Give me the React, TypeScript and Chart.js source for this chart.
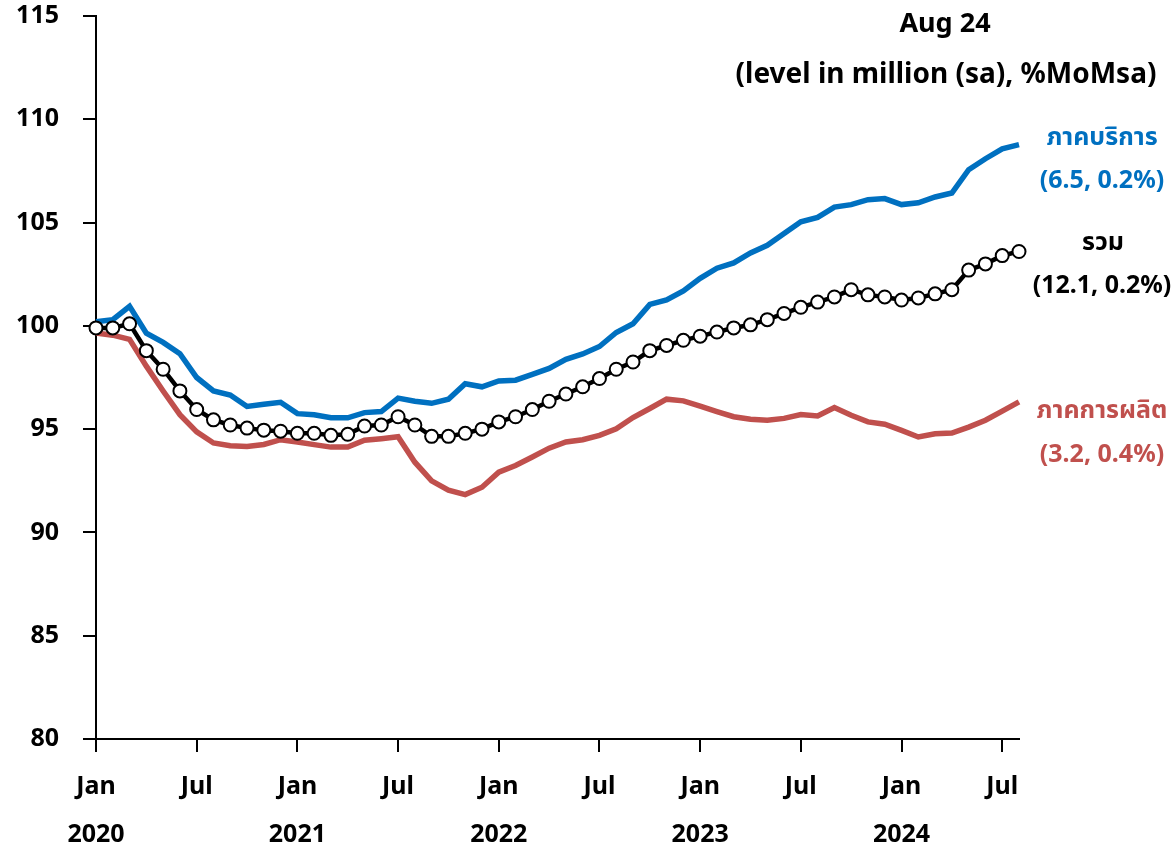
import React, { useEffect, useRef } from 'react';
import { Chart, registerables } from 'chart.js';

Chart.register(...registerables);

// ---------- data ----------
const MONTH_NAMES = ['Jan', 'Feb', 'Mar', 'Apr', 'May', 'Jun', 'Jul', 'Aug', 'Sep', 'Oct', 'Nov', 'Dec'];
const YEARS = [2020, 2021, 2022, 2023, 2024];
const N_MONTHS = 56; // Jan 2020 .. Aug 2024
const categories: string[] = [];
for (let i = 0; i < N_MONTHS; i++) {
  categories.push(`${MONTH_NAMES[i % 12]} ${YEARS[Math.floor(i / 12)]}`);
}
const SHOWN_MONTHS = ['Jan', 'Jul'];

// ภาคบริการ (services)
const servicesValues = [
  100.2, 100.3, 100.95, 99.65, 99.2, 98.65, 97.5, 96.85, 96.65, 96.1, 96.2, 96.3,
  95.75, 95.7, 95.55, 95.55, 95.8, 95.85, 96.5, 96.35, 96.25, 96.45, 97.2, 97.05,
  97.33, 97.37, 97.65, 97.94, 98.38, 98.64, 99.0, 99.68, 100.1, 101.04, 101.25, 101.69,
  102.3, 102.79, 103.05, 103.53, 103.9, 104.47, 105.04, 105.25, 105.75, 105.87, 106.11, 106.16,
  105.87, 105.96, 106.24, 106.43, 107.56, 108.09, 108.57, 108.77,
];

// รวม (total)
const totalValues = [
  99.9, 99.9, 100.1, 98.8, 97.9, 96.85, 95.95, 95.45, 95.2, 95.05, 94.95, 94.9,
  94.8, 94.8, 94.7, 94.75, 95.15, 95.2, 95.6, 95.2, 94.65, 94.65, 94.8, 95.0,
  95.35, 95.6, 95.95, 96.35, 96.7, 97.05, 97.45, 97.9, 98.25, 98.8, 99.05, 99.3,
  99.5, 99.7, 99.9, 100.05, 100.3, 100.6, 100.9, 101.15, 101.4, 101.75, 101.5, 101.4,
  101.25, 101.35, 101.55, 101.75, 102.7, 103.0, 103.4, 103.6,
];

// ภาคการผลิต (manufacturing)
const manufacturingValues = [
  99.65, 99.55, 99.35, 98.05, 96.85, 95.7, 94.87, 94.33, 94.2, 94.16, 94.26, 94.49,
  94.38, 94.25, 94.13, 94.13, 94.46, 94.54, 94.63, 93.4, 92.5, 92.05, 91.83, 92.19,
  92.92, 93.24, 93.65, 94.08, 94.38, 94.49, 94.7, 95.02, 95.56, 96.0, 96.45, 96.37,
  96.11, 95.85, 95.6, 95.48, 95.43, 95.52, 95.71, 95.64, 96.05, 95.67, 95.35, 95.24,
  94.94, 94.62, 94.78, 94.81, 95.1, 95.43, 95.87, 96.32,
];

const Y_MIN = 80;
const Y_MAX = 115;
const Y_STEP = 5;

const HEADER_LINES = ['Aug 24', '(level in million (sa), %MoMsa)'];
const SERIES_LABELS = [
  { name: 'ภาคบริการ', stats: '(6.5, 0.2%)', color: '#0070C0' },
  { name: 'รวม', stats: '(12.1, 0.2%)', color: '#000000' },
  { name: 'ภาคการผลิต', stats: '(3.2, 0.4%)', color: '#C0504D' },
];

// ---------- styles ----------
const FONT = "'Noto Sans', 'Noto Sans Thai', 'DejaVu Sans', sans-serif";
const BLUE = '#0070C0';
const RED = '#C0504D';
const BLACK = '#000000';
const TICK_LEN = 13;

const W = 1176;
const H = 851;

export default function App() {
  const canvasRef = useRef<HTMLCanvasElement | null>(null);

  useEffect(() => {
    const canvas = canvasRef.current;
    if (!canvas) return;
    const chart = new Chart(canvas, {
      type: 'line',
      data: {
        labels: categories,
        datasets: [
          {
            label: SERIES_LABELS[1].name,
            data: totalValues,
            borderColor: BLACK,
            borderWidth: 4.5,
            pointRadius: 6.5,
            pointBorderWidth: 2,
            pointBackgroundColor: '#ffffff',
            pointBorderColor: BLACK,
            tension: 0,
          },
          {
            label: SERIES_LABELS[0].name,
            data: servicesValues,
            borderColor: BLUE,
            borderWidth: 5.5,
            pointRadius: 0,
            tension: 0,
          },
          {
            label: SERIES_LABELS[2].name,
            data: manufacturingValues,
            borderColor: RED,
            borderWidth: 5.5,
            pointRadius: 0,
            tension: 0,
          },
        ],
      },
      options: {
        animation: false,
        responsive: true,
        maintainAspectRatio: false,
        layout: { padding: { left: 0, top: 16, right: 157, bottom: 0 } },
        plugins: {
          legend: { display: false },
          tooltip: { enabled: false },
          title: { display: false },
        },
        scales: {
          x: {
            type: 'category',
            offset: false,
            border: { color: BLACK, width: 2 },
            grid: {
              display: true,
              drawOnChartArea: false,
              drawTicks: true,
              tickLength: TICK_LEN,
              lineWidth: 2,
              color: BLACK,
            },
            ticks: {
              autoSkip: false,
              maxRotation: 0,
              minRotation: 0,
              padding: 11,
              color: BLACK,
              font: { family: FONT, size: 25, weight: 'bold', lineHeight: '48px' as any },
              // months other than Jan/Jul return null: Chart.js drops those ticks (and their tick marks)
              callback: (_v: any, i: number) => {
                const [m, y] = categories[i].split(' ');
                if (!SHOWN_MONTHS.includes(m)) return null;
                return [m, m === 'Jan' ? y : ''];
              },
            },
            afterFit: (scale: any) => {
              scale.height = 112;
            },
          },
          y: {
            min: Y_MIN,
            max: Y_MAX,
            border: { color: BLACK, width: 2 },
            grid: {
              drawOnChartArea: false,
              drawTicks: true,
              tickLength: TICK_LEN,
              lineWidth: 2,
              color: BLACK,
            },
            ticks: {
              stepSize: Y_STEP,
              padding: 24,
              color: BLACK,
              font: { family: FONT, size: 25, weight: 'bold' },
            },
            afterFit: (scale: any) => {
              scale.width = 96;
              scale.paddingTop = 0;
              scale.paddingBottom = 0;
            },
          },
        },
      },
    });
    return () => chart.destroy();
  }, []);

  const textBase: React.CSSProperties = {
    position: 'absolute',
    width: 600,
    textAlign: 'center',
    fontFamily: FONT,
    fontWeight: 'bold',
    whiteSpace: 'nowrap',
    height: 40,
    lineHeight: '40px',
  };
  const at = (cx: number, cy: number): React.CSSProperties => ({ left: cx - 300, top: cy - 20 });

  return (
    <div style={{ position: 'fixed', left: 0, top: 0, width: W, height: H, background: '#fff', overflow: 'hidden' }}>
      <canvas ref={canvasRef} />
      <div style={{ ...textBase, ...at(945, 22), fontSize: 27, color: BLACK }}>{HEADER_LINES[0]}</div>
      <div style={{ ...textBase, ...at(946, 72), fontSize: 28, color: BLACK }}>{HEADER_LINES[1]}</div>
      <div style={{ ...textBase, ...at(1102, 135), fontSize: 25, color: SERIES_LABELS[0].color }}>{SERIES_LABELS[0].name}</div>
      <div style={{ ...textBase, ...at(1102, 178), fontSize: 25, color: SERIES_LABELS[0].color }}>{SERIES_LABELS[0].stats}</div>
      <div style={{ ...textBase, ...at(1103, 240), fontSize: 25, color: SERIES_LABELS[1].color }}>{SERIES_LABELS[1].name}</div>
      <div style={{ ...textBase, ...at(1102, 283), fontSize: 25, color: SERIES_LABELS[1].color }}>{SERIES_LABELS[1].stats}</div>
      <div style={{ ...textBase, ...at(1102, 408), fontSize: 25, color: SERIES_LABELS[2].color }}>{SERIES_LABELS[2].name}</div>
      <div style={{ ...textBase, ...at(1102, 452), fontSize: 25, color: SERIES_LABELS[2].color }}>{SERIES_LABELS[2].stats}</div>
    </div>
  );
}
